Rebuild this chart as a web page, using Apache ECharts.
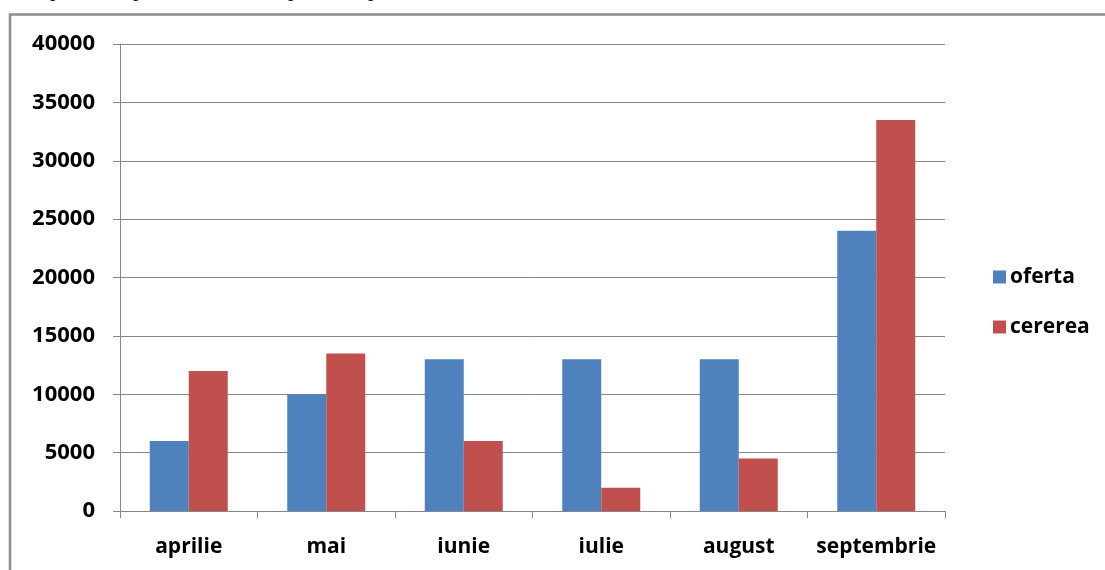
<!DOCTYPE html>
<html>
<head>
<meta charset="utf-8">
<script src="https://cdn.jsdelivr.net/npm/echarts@6/dist/echarts.min.js"></script>
<style>
  html, body { margin: 0; padding: 0; background: #fff; }
  #chart { width: 1105px; height: 570px; }
</style>
</head>
<body>
<div id="chart"></div>
<script>
  // Data
  const months = ["aprilie", "mai", "iunie", "iulie", "august", "septembrie"];
  const oferta = [6000, 10000, 13000, 13000, 13000, 24000];
  const cererea = [12000, 13500, 6000, 2000, 4500, 33500];

  const axisGray = "#868686";
  const labelFont = "'Open Sans', 'Noto Sans', sans-serif";

  const chart = echarts.init(document.getElementById("chart"), null, {
    renderer: "canvas",
  });

  const option = {
    animation: false,
    backgroundColor: "#fff",

    // frame of the embedded chart + clipped text line above it
    graphic: [
      {
        type: "rect",
        shape: { x: 10, y: 14.5, width: 1200, height: 700 },
        style: { fill: "none", stroke: "#8c8c8c", lineWidth: 2.5 },
        silent: true,
      },
      ...[50, 133, 288, 368].map((x) => ({
        type: "text",
        x: x,
        y: -10,
        style: {
          text: "p",
          font: "22px 'Liberation Serif', serif",
          fill: "#000",
          verticalAlign: "middle",
        },
        silent: true,
      })),
    ],

    legend: {
      orient: "vertical",
      left: 988,
      top: 261,
      itemWidth: 13,
      itemHeight: 13,
      itemGap: 28,
      icon: "rect",
      textStyle: {
        fontFamily: labelFont,
        fontWeight: "bold",
        fontSize: 21,
        lineHeight: 22,
        color: "#000",
        padding: [0, 0, 0, -1],
      },
      data: ["oferta", "cererea"],
    },

    grid: {
      left: 120,
      right: 160,
      top: 44,
      bottom: 59,
    },

    xAxis: {
      type: "category",
      data: months,
      axisLine: { lineStyle: { color: axisGray, width: 1 } },
      axisTick: { show: true, interval: 0, length: 7, lineStyle: { color: axisGray } },
      axisLabel: {
        interval: 0,
        margin: 26,
        color: "#000",
        fontFamily: labelFont,
        fontWeight: "bold",
        fontSize: 21,
      },
    },

    yAxis: {
      type: "value",
      min: 0,
      max: 40000,
      interval: 5000,
      axisLine: { show: true, lineStyle: { color: axisGray, width: 1 } },
      axisTick: { show: true, length: 7, lineStyle: { color: axisGray } },
      axisLabel: {
        margin: 25,
        color: "#000",
        fontFamily: labelFont,
        fontWeight: "bold",
        fontSize: 22,
        formatter: (v) => String(v),
      },
      splitLine: { lineStyle: { color: axisGray, width: 1 } },
    },

    series: [
      {
        name: "oferta",
        type: "bar",
        data: oferta,
        barWidth: 39,
        barGap: "0%",
        itemStyle: { color: "#4F81BD" },
      },
      {
        name: "cererea",
        type: "bar",
        data: cererea,
        barWidth: 39,
        barGap: "0%",
        itemStyle: { color: "#C0504D" },
      },
    ],
  };

  chart.setOption(option);
</script>
</body>
</html>
